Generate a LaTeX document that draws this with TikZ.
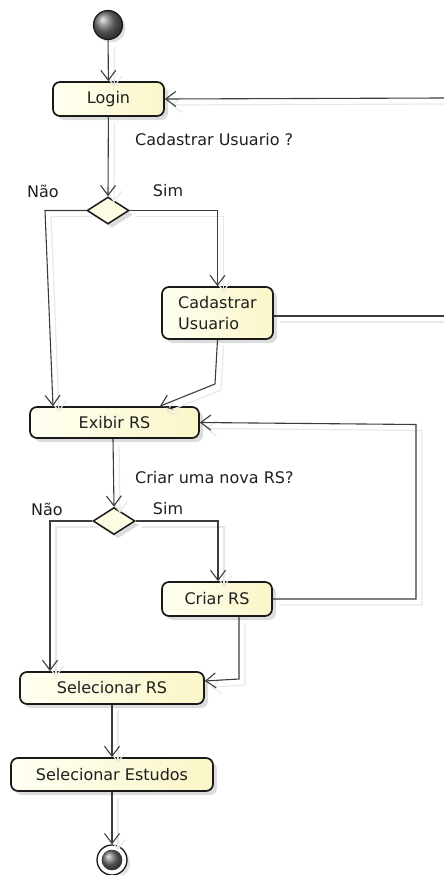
\documentclass[tikz,border=0pt]{standalone}
\usepackage{fontspec}
\setmainfont{DejaVu Sans}
\usetikzlibrary{arrows.meta,shapes.geometric,shadows}

\definecolor{boxlight}{RGB}{255,255,242}
\definecolor{boxdark}{RGB}{250,246,200}
\definecolor{inkline}{RGB}{60,60,60}

\begin{document}
\begin{tikzpicture}[x=1pt,y=-1pt,
  font=\fontsize{16}{21}\selectfont,
  every node/.style={text=black!88},
  act/.style={draw=black!90, line width=1.7pt, rounded corners=7pt,
    left color=boxlight, right color=boxdark, inner sep=0pt,
    drop shadow={shadow xshift=4pt, shadow yshift=-4pt, fill=black!30, opacity=0.45}},
  choice/.style={diamond, draw=black!90, line width=1.5pt, fill=boxlight!60!boxdark,
    minimum width=42pt, minimum height=27pt, inner sep=0pt,
    drop shadow={shadow xshift=4pt, shadow yshift=-4pt, fill=black!30, opacity=0.45}},
  flow/.style={draw=inkline, line width=1.1pt,
    -{Straight Barb[length=10pt,width=15pt]},
    preaction={draw=black!9, line width=1.2pt,
      transform canvas={shift={(6pt,-6pt)}}}},
  plain/.style={draw=inkline, line width=1.1pt,
    preaction={draw=black!9, line width=1.2pt,
      transform canvas={shift={(6pt,-6pt)}}}},
  lbl/.style={inner sep=0pt}
]
\useasboundingbox (0,0) rectangle (444,875);

% initial and final states
\node[circle, draw=black!90, line width=1.2pt, minimum size=29pt, inner sep=0pt,
  shading=ball, ball color=black!55,
  drop shadow={shadow xshift=3pt, shadow yshift=-3pt, fill=black!30, opacity=0.4}]
  (start) at (108,25) {};
\node[circle, draw=black!90, line width=1.3pt, fill=white, minimum size=30pt, inner sep=0pt,
  drop shadow={shadow xshift=3pt, shadow yshift=-3pt, fill=black!30, opacity=0.4}]
  (stop) at (112,860) {};
\node[circle, draw=black!80, line width=0.6pt, minimum size=20pt, inner sep=0pt,
  shading=ball, ball color=black!55] (stopcore) at (stop.center) {};

% activities
\node[act, minimum width=111pt, minimum height=34pt] (login) at (108.5,99) {Login};
\node[act, minimum width=111pt, minimum height=52pt, align=left] (cad) at (217.5,313)
  {Cadastrar\\Usuario};
\node[act, minimum width=169pt, minimum height=31pt] (exibir) at (114.5,422.5) {Exibir RS};
\node[act, minimum width=110pt, minimum height=34pt] (criar) at (217,599) {Criar RS};
\node[act, minimum width=184pt, minimum height=32pt] (selrs) at (112,688) {Selecionar RS};
\node[act, minimum width=202pt, minimum height=33pt] (selest) at (112,774.5) {Selecionar Estudos};

% decisions
\node[choice] (d1) at (108,210.5) {};
\node[choice] (d2) at (114,521) {};

% guard texts
\node[lbl, anchor=west] (q1) at (135,140) {Cadastrar Usuario ?};
\node[lbl] (n1) at (43,191) {Não};
\node[lbl] (s1) at (168,191) {Sim};
\node[lbl, anchor=west] (q2) at (135,478) {Criar uma nova RS?};
\node[lbl] (n2) at (47,509) {Não};
\node[lbl] (s2) at (168,509) {Sim};

% free ends at the right border
\coordinate (inlogin) at (444,98);
\coordinate (outcad) at (444,316);
\coordinate (loop) at (416,0);

% flows
\draw[flow] (start) -- (login);
\draw[flow] (inlogin) -- (login.east);
\draw[flow] (login) -- (d1.north);
\draw[flow] (d1.west) -- (45,210.5) -- ([xshift=-61.5pt]exibir.north);
\draw[flow] (d1.east) -| (cad.north);
\draw[plain] (cad.east |- outcad) -- (outcad);
\draw[flow] (cad.south) -- (215,384) -- ([xshift=45.5pt]exibir.north);
\draw[flow] ([xshift=-1.5pt]exibir.south) -- (d2.north);
\draw[flow] (d2.west) -| ([xshift=-62pt]selrs.north);
\draw[flow] (d2.east) -| ([xshift=1pt]criar.north);
\draw[flow] (criar.east) -- (criar.east -| loop) -- ([yshift=-2pt]exibir.east -| loop)
  -- (exibir.east);
\draw[flow] ([xshift=22pt]criar.south) -- (239,679) -- ([yshift=7pt]selrs.east);
\draw[flow] (selrs) -- (selest);
\draw[flow] (selest) -- (stop);
\end{tikzpicture}
\end{document}
